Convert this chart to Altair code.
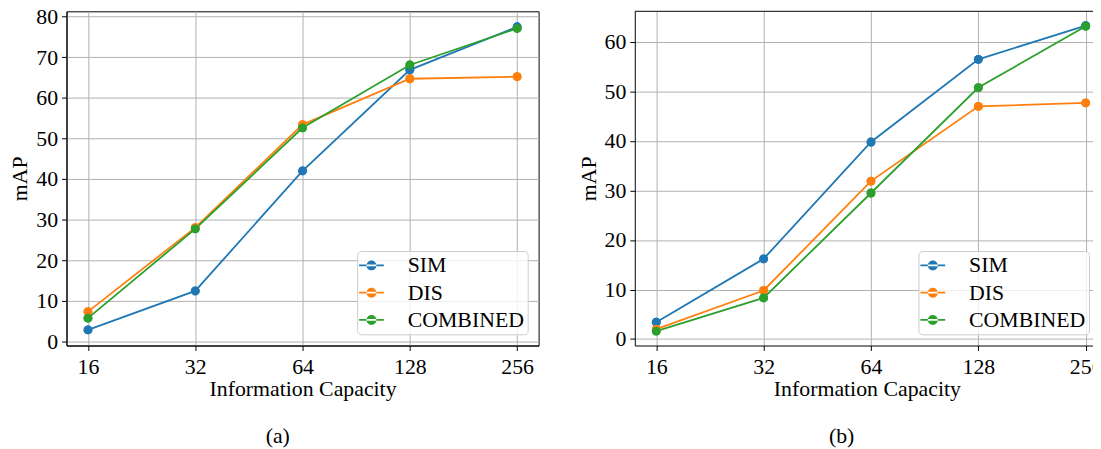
import altair as alt
import pandas as pd

# ---------------- data ----------------
capacity = [16, 32, 64, 128, 256]
methods = ["SIM", "DIS", "COMBINED"]
colors = ["#1f77b4", "#ff7f0e", "#2ca02c"]

a_sim = [2.8, 12.4, 42.0, 66.9, 77.5]
a_dis = [7.3, 28.0, 53.4, 64.7, 65.2]
a_comb = [5.7, 27.7, 52.6, 68.1, 77.1]

b_sim = [3.4, 16.2, 39.8, 56.5, 63.3]
b_dis = [2.0, 9.8, 31.9, 47.0, 47.7]
b_comb = [1.6, 8.3, 29.5, 50.8, 63.2]

a_yticks = [0, 10, 20, 30, 40, 50, 60, 70, 80]
b_yticks = [0, 10, 20, 30, 40, 50, 60]


def long_df(sim, dis, comb):
    rows = []
    for name, vals in zip(methods, [sim, dis, comb]):
        for c, v in zip(capacity, vals):
            rows.append({"capacity": c, "mAP": v, "method": name})
    return pd.DataFrame(rows)


FONT = "Liberation Serif"
FS = 22
# legend symbol: a short line with a filled circle (matplotlib style)
LEGEND_PATH = ("M-3.8,0M-2.5,-0.17L2.5,-0.17L2.5,0.17L-2.5,0.17Z"
               "M-1,0A1,1,0,1,0,1,0A1,1,0,1,0,-1,0Z")


def panel(df, y_dom, y_ticks, width, x_hi_oct, caption, cap_dx, lx, ly, framed):
    x_dom = [16 * 2 ** -0.2, 16 * 2 ** x_hi_oct]
    x = alt.X("capacity:Q",
              scale=alt.Scale(type="log", base=2, domain=x_dom, nice=False),
              axis=alt.Axis(values=capacity, format="d", title="Information Capacity",
                            labelFlush=False, labelOverlap=False))
    y = alt.Y("mAP:Q",
              scale=alt.Scale(domain=y_dom, nice=False, zero=False),
              axis=alt.Axis(values=y_ticks, title="mAP", labelOverlap=False))
    color = alt.Color("method:N", sort=methods,
                      scale=alt.Scale(domain=methods, range=colors),
                      legend=alt.Legend(orient="none", legendX=lx, legendY=ly, title=None,
                                        symbolType=LEGEND_PATH, symbolSize=100,
                                        symbolStrokeWidth=0, symbolOpacity=1,
                                        labelFont=FONT, labelFontSize=FS, labelColor="black",
                                        labelOffset=25.5, rowPadding=5.5, padding=3.5,
                                        fillColor="rgba(255,255,255,0.8)",
                                        strokeColor="#cccccc", cornerRadius=4))
    base = alt.Chart(df)
    pts = base.mark_point(filled=True, size=80, opacity=1).encode(x=x, y=y, color=color)
    lines = base.mark_line(strokeWidth=1.8).encode(x=x, y=y, color=color)
    layers = [pts, lines, pts]
    view = alt.ViewBackground(stroke="black", strokeWidth=1)
    if not framed:
        top = alt.Chart(pd.DataFrame({"top": [y_dom[1]]})).mark_rule(
            color="black", strokeWidth=1).encode(y=alt.Y("top:Q"))
        layers.append(top)
        view = alt.ViewBackground(stroke="transparent")
    return alt.layer(*layers).properties(
        width=width, height=337, view=view,
        title=alt.TitleParams(caption, orient="bottom", anchor="middle", frame="bounds",
                              offset=27, dx=cap_dx, fontSize=FS, font=FONT,
                              fontWeight="normal", color="black"))


left = panel(long_df(a_sim, a_dis, a_comb), [-1.05, 81.32], a_yticks, 476, 4.2,
             "(a)", 4, 293, 241.7, True)
right = panel(long_df(b_sim, b_dis, b_comb), [-1.32, 66.21], b_yticks, 468, 4.1233,
              "(b)", 2, 286, 241.7, False)

chart = alt.hconcat(left, right, spacing=37).resolve_scale(
    color="independent").resolve_legend(color="independent").properties(
    padding={"left": 0, "top": -5.5, "right": -10, "bottom": 0}
).configure(font=FONT).configure_axis(
    labelFont=FONT, labelFontSize=FS, labelColor="black",
    titleFont=FONT, titleFontSize=FS, titleFontWeight="normal", titleColor="black",
    tickColor="black", tickSize=5, tickWidth=1,
    domainColor="black", domainWidth=1,
    gridColor="#b0b0b0", gridWidth=1, labelPadding=4
).configure_axisX(labelPadding=6, titlePadding=1.5).configure_axisY(titlePadding=4)

chart.save("out.html", embed_options={"renderer": "svg", "actions": False})
